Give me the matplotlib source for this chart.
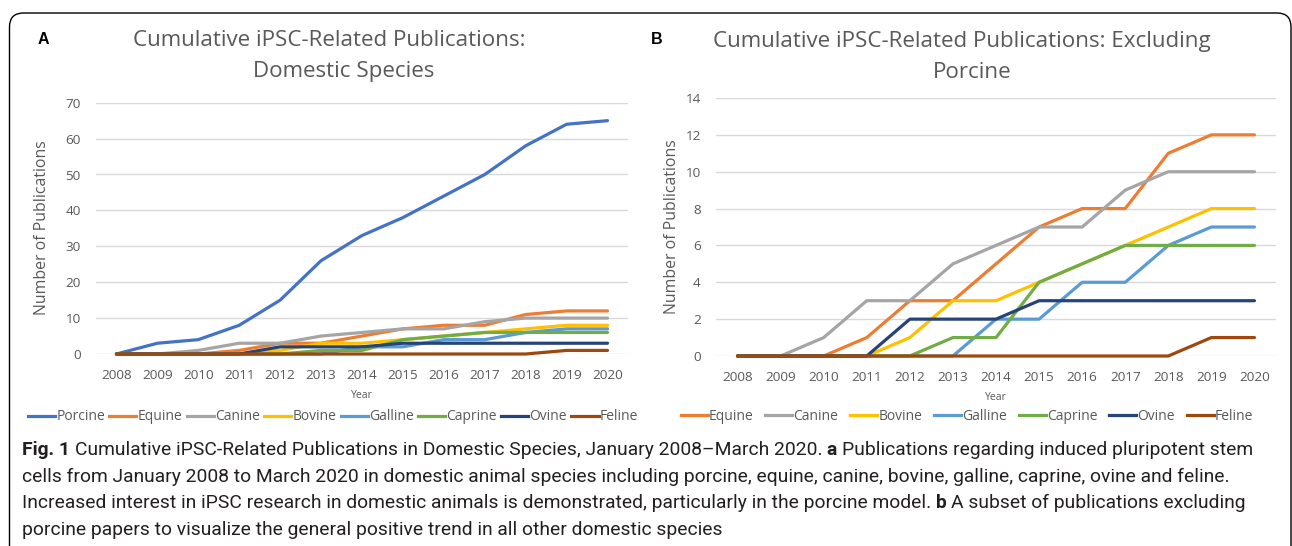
import matplotlib
matplotlib.use('Agg')
import matplotlib.pyplot as plt
from matplotlib.patches import FancyBboxPatch
from matplotlib.lines import Line2D
from matplotlib.transforms import IdentityTransform

# ---------------- data ----------------
years = list(range(2008, 2021))
species = ["Porcine", "Equine", "Canine", "Bovine", "Galline", "Caprine", "Ovine", "Feline"]
porcine = [0, 3, 4, 8, 15, 26, 33, 38, 44, 50, 58, 64, 65]
equine = [0, 0, 0, 1, 3, 3, 5, 7, 8, 8, 11, 12, 12]
canine = [0, 0, 1, 3, 3, 5, 6, 7, 7, 9, 10, 10, 10]
bovine = [0, 0, 0, 0, 1, 3, 3, 4, 5, 6, 7, 8, 8]
galline = [0, 0, 0, 0, 0, 0, 2, 2, 4, 4, 6, 7, 7]
caprine = [0, 0, 0, 0, 0, 1, 1, 4, 5, 6, 6, 6, 6]
ovine = [0, 0, 0, 0, 2, 2, 2, 3, 3, 3, 3, 3, 3]
feline = [0, 0, 0, 0, 0, 0, 0, 0, 0, 0, 0, 1, 1]
series = [porcine, equine, canine, bovine, galline, caprine, ovine, feline]
yticks_a = [0, 10, 20, 30, 40, 50, 60, 70]
yticks_b = [0, 2, 4, 6, 8, 10, 12, 14]

colors = ["#4472C4", "#ED7D31", "#A5A5A5", "#FFC000", "#5B9BD5", "#70AD47", "#264478", "#9E480E"]

W, H = 1292, 546
fig = plt.figure(figsize=(W / 100, H / 100), dpi=100)
fig.patch.set_facecolor("white")

CF = "Open Sans"
GREY = "#595959"


def px_axes(l, r, top, bottom):
    return fig.add_axes([l / W, 1 - bottom / H, (r - l) / W, (bottom - top) / H])


def style_axes(ax, ymax, yticks):
    ax.set_xlim(years[0] - 0.5, years[-1] + 0.5)
    ax.set_ylim(0, ymax)
    ax.set_yticks(yticks)
    ax.set_xticks(years)
    ax.set_xticklabels([str(y) for y in years])
    for s in ax.spines.values():
        s.set_visible(False)
    ax.grid(axis="y", color="#D9D9D9", lw=1.0)
    ax.set_axisbelow(True)
    ax.tick_params(axis="both", length=0, labelsize=9.7, labelcolor=GREY)
    ax.tick_params(axis="y", pad=11)
    ax.tick_params(axis="x", pad=11)
    for lab in ax.get_xticklabels() + ax.get_yticklabels():
        lab.set_fontfamily(CF)


# ---------------- panel A ----------------
axA = px_axes(96, 628, 102.7, 354)
for vals, c in zip(series, colors):
    axA.plot(years, vals, color=c, lw=2.3, clip_on=False, solid_capstyle="round")
style_axes(axA, 70, yticks_a)
fig.text(42 / W, 1 - 228 / H, "Number of Publications", rotation=90, ha="center", va="center",
         fontsize=11.4, color=GREY, family=CF)
fig.text(362 / W, 1 - 396 / H, "Year", ha="center", va="center", fontsize=7.5, color=GREY, family=CF)
fig.text(133 / W, 1 - 41 / H, "Cumulative iPSC-Related Publications:", ha="left", va="center",
         fontsize=16.1, color=GREY, family=CF)
fig.text(344 / W, 1 - 72 / H, "Domestic Species", ha="center", va="center",
         fontsize=16.1, color=GREY, family=CF)
fig.text(43 / W, 1 - 40 / H, "A", ha="center", va="center", fontsize=11.5, fontweight="bold",
         color="black", family="Liberation Sans")

handlesA = [Line2D([], [], color=c, lw=2.3) for c in colors]
legA = fig.legend(handlesA, species, loc="center", bbox_to_anchor=(333 / W, 1 - 417 / H), ncol=8,
                  frameon=False, fontsize=10, handlelength=1.95, handletextpad=0.08,
                  columnspacing=0.32, borderpad=0, borderaxespad=0)
for t in legA.get_texts():
    t.set_color(GREY)
    t.set_fontfamily(CF)

# ---------------- panel B ----------------
axB = px_axes(716, 1276, 98, 356)
for vals, c in zip(series[1:], colors[1:]):
    axB.plot(years, vals, color=c, lw=2.3, clip_on=False, solid_capstyle="round")
style_axes(axB, 14, yticks_b)
fig.text(672 / W, 1 - 227 / H, "Number of Publications", rotation=90, ha="center", va="center",
         fontsize=11.4, color=GREY, family=CF)
fig.text(996 / W, 1 - 397 / H, "Year", ha="center", va="center", fontsize=7.5, color=GREY, family=CF)
fig.text(713 / W, 1 - 41 / H, "Cumulative iPSC-Related Publications: Excluding", ha="left", va="center",
         fontsize=16.1, color=GREY, family=CF)
fig.text(972 / W, 1 - 72 / H, "Porcine", ha="center", va="center",
         fontsize=16.1, color=GREY, family=CF)
fig.text(657 / W, 1 - 40 / H, "B", ha="center", va="center", fontsize=11.5, fontweight="bold",
         color="black", family="Liberation Sans")

handlesB = [Line2D([], [], color=c, lw=2.3) for c in colors[1:]]
legB = fig.legend(handlesB, species[1:], loc="center", bbox_to_anchor=(967 / W, 1 - 416 / H), ncol=7,
                  frameon=False, fontsize=10, handlelength=1.95, handletextpad=0.08,
                  columnspacing=0.85, borderpad=0, borderaxespad=0)
for t in legB.get_texts():
    t.set_color(GREY)
    t.set_fontfamily(CF)

# ---------------- border ----------------
border = FancyBboxPatch((9.5, -40), 1291 - 9.5, (H - 13) + 40,
                        boxstyle="round,pad=0,rounding_size=14", transform=IdentityTransform(),
                        facecolor="none", edgecolor="black", lw=1.0, clip_on=False)
fig.patches.append(border)

# ---------------- caption ----------------
cap_lines = [
    [("Fig. 1 ", True), ("Cumulative iPSC-Related Publications in Domestic Species, January 2008\u2013March 2020. ", False),
     ("a ", True), ("Publications regarding induced pluripotent stem", False)],
    [("cells from January 2008 to March 2020 in domestic animal species including porcine, equine, canine, bovine, galline, caprine, ovine and feline.", False)],
    [("Increased interest in iPSC research in domestic animals is demonstrated, particularly in the porcine model. ", False),
     ("b ", True), ("A subset of publications excluding", False)],
    [("porcine papers to visualize the general positive trend in all other domestic species", False)],
]
cap_y = [450, 477, 503, 530]
CAPF = ["Roboto", "DejaVu Sans"]
renderer = fig.canvas.get_renderer()


def run_width(runs, size):
    w = 0
    for txt, bold in runs:
        t = fig.text(0, 0, txt, fontsize=size, fontweight="bold" if bold else "normal", family=CAPF)
        w += t.get_window_extent(renderer).width
        t.remove()
    return w


base = run_width(cap_lines[0], 10)
cap_size = 10 * (1255 - 22) / base

for runs, yy in zip(cap_lines, cap_y):
    x = 22
    for txt, bold in runs:
        t = fig.text(x / W, 1 - yy / H, txt, fontsize=cap_size, fontweight="bold" if bold else "normal",
                     family=CAPF, ha="left", va="center", color="#231F20")
        x += t.get_window_extent(renderer).width

fig.savefig("out.png", dpi=100, facecolor="white")
